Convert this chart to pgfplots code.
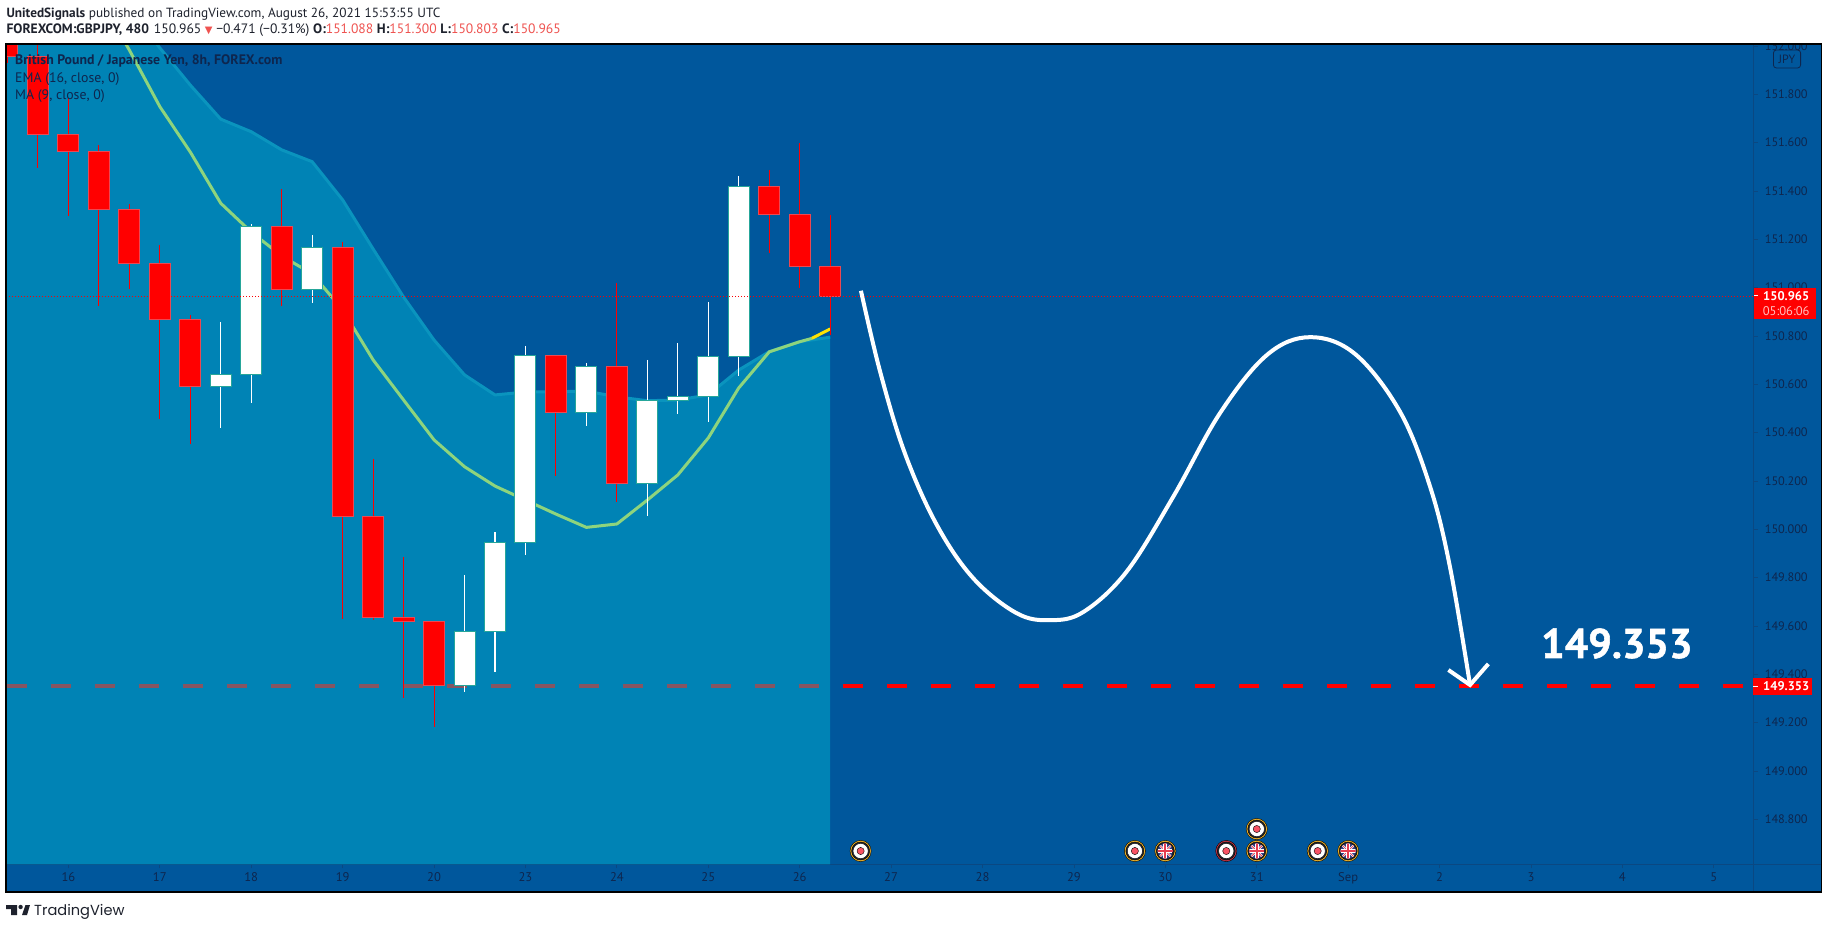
\documentclass[border=0pt]{standalone}
\usepackage{fontspec}
\usepackage{pgfplots}
\pgfplotsset{compat=1.18}
\setmainfont{PT Sans}
\newfontfamily\symf{DejaVu Sans}
\newfontfamily\logof{Poppins}
\newfontfamily\annotf[FakeBold=1.3]{PT Sans Bold}
\definecolor{bgblue}{RGB}{0,87,156}
\definecolor{areac}{RGB}{0,181,210}
\definecolor{emac}{RGB}{10,148,190}
\definecolor{mac}{RGB}{142,212,125}
\definecolor{txtdark}{RGB}{14,38,78}
\definecolor{axisdark}{RGB}{10,72,130}
\definecolor{redb}{RGB}{236,72,82}
\definecolor{tealb}{RGB}{38,166,154}
\definecolor{salmon}{RGB}{239,83,80}
\definecolor{ink}{RGB}{30,34,45}
\definecolor{gold}{RGB}{240,178,40}
\definecolor{pinkdot}{RGB}{247,82,100}
\definecolor{ukblue}{RGB}{50,60,130}
\definecolor{ukred}{RGB}{230,60,80}
\pgfdeclareplotmark{ukflag}{%
  \begin{pgfscope}%
  \pgfpathcircle{\pgfpointorigin}{7.6pt}\pgfusepathqclip
  \pgfsetfillcolor{ukblue}\pgfpathrectangle{\pgfpoint{-8pt}{-8pt}}{\pgfpoint{16pt}{16pt}}\pgfusepathqfill
  \pgfsetstrokecolor{white}\pgfsetlinewidth{2.2pt}%
  \pgfpathmoveto{\pgfpoint{-8pt}{-8pt}}\pgfpathlineto{\pgfpoint{8pt}{8pt}}%
  \pgfpathmoveto{\pgfpoint{-8pt}{8pt}}\pgfpathlineto{\pgfpoint{8pt}{-8pt}}\pgfusepathqstroke
  \pgfsetstrokecolor{ukred}\pgfsetlinewidth{0.8pt}%
  \pgfpathmoveto{\pgfpoint{-8pt}{-8pt}}\pgfpathlineto{\pgfpoint{8pt}{8pt}}%
  \pgfpathmoveto{\pgfpoint{-8pt}{8pt}}\pgfpathlineto{\pgfpoint{8pt}{-8pt}}\pgfusepathqstroke
  \pgfsetstrokecolor{white}\pgfsetlinewidth{4pt}%
  \pgfpathmoveto{\pgfpoint{-8pt}{0pt}}\pgfpathlineto{\pgfpoint{8pt}{0pt}}%
  \pgfpathmoveto{\pgfpoint{0pt}{-8pt}}\pgfpathlineto{\pgfpoint{0pt}{8pt}}\pgfusepathqstroke
  \pgfsetstrokecolor{ukred}\pgfsetlinewidth{2pt}%
  \pgfpathmoveto{\pgfpoint{-8pt}{0pt}}\pgfpathlineto{\pgfpoint{8pt}{0pt}}%
  \pgfpathmoveto{\pgfpoint{0pt}{-8pt}}\pgfpathlineto{\pgfpoint{0pt}{8pt}}\pgfusepathqstroke
  \end{pgfscope}%
}
% candle: index, open, high, low, close
\newcommand{\candle}[7]{%
  \pgfmathsetmacro\xl{#1-0.345}\pgfmathsetmacro\xr{#1+0.345}%
  \addplot[#6,line width=1.1pt,forget plot] coordinates {(#1,#3)(#1,#4)};
  \addplot[fill=#6,draw=#7,line width=1pt,forget plot] coordinates {(\xl,#2)(\xr,#2)(\xr,#5)(\xl,#5)} --cycle;
}
\newcommand{\dn}[5]{\candle{#1}{#2}{#3}{#4}{#5}{red}{redb}}
\newcommand{\up}[5]{\candle{#1}{#2}{#3}{#4}{#5}{white}{tealb}}
\newcommand{\fs}[1]{\fontsize{#1}{#1}\selectfont}
\begin{document}
\begin{tikzpicture}
\path[use as bounding box,fill=white] (0pt,0pt) rectangle (1828pt,929pt);
\fill[bgblue] (6pt,37pt) rectangle (1821.6pt,885pt);
\begin{axis}[
  at={(6pt,64.7pt)},anchor=south west,
  scale only axis,width=1747.6pt,height=820.3pt,
  xmin=-2.048,xmax=55.306,ymin=148.614,ymax=152.008,
  clip mode=individual,
  axis x line*=bottom,axis y line*=right,
  axis line style={draw=axisdark,line width=0.8pt,-},
  tick style={draw=axisdark,line width=0.8pt},
  tick align=outside,major tick length=4pt,
  xtick={0,3,6,9,12,15,18,21,24,27,30,33,36,39,42,45,48,51,54},
  xticklabels={16,17,18,19,20,23,24,25,26,27,28,29,30,31,Sep,2,3,4,5},
  ytick={148.8,149,149.2,149.4,149.6,149.8,150,150.2,150.4,150.6,150.8,151,151.2,151.4,151.6,151.8,152},
  yticklabel style={/pgf/number format/.cd,fixed,fixed zerofill,precision=3,1000 sep={},assume math mode=true,/tikz/.cd,inner sep=0pt,xshift=7pt,font=\fs{12.3},text=txtdark},
  xticklabel style={inner sep=0pt,yshift=-4.5pt,font=\fs{12.6},text=txtdark},
]
% target level, seen through the shaded area
\addplot[red,line width=3.9pt,dash pattern=on 20pt off 24pt,forget plot] coordinates {(-2.015,149.353)(54.96,149.353)};
% shaded area under the EMA
\addplot[fill=areac,fill opacity=0.47,draw=none,forget plot] coordinates {
(-2.048,148.614)(-2.048,152.749)(-1,152.604)(0,152.455)(1,152.302)(2,152.149)(3,151.992)(4,151.838)(5,151.697)(6,151.645)(7,151.570)(8,151.521)(9,151.363)(10,151.160)(11,150.961)(12,150.783)(13,150.639)(14,150.556)(15,150.568)(16,150.569)(17,150.572)(18,150.548)(19,150.532)(20,150.535)(21,150.556)(22,150.659)(23,150.735)(24,150.776)(25,150.795)(25,148.614)} --cycle;
\addplot[emac,line width=3pt,forget plot] coordinates {
(-2,152.749)(-1,152.604)(0,152.455)(1,152.302)(2,152.149)(3,151.992)(4,151.838)(5,151.697)(6,151.645)(7,151.570)(8,151.521)(9,151.363)(10,151.160)(11,150.961)(12,150.783)(13,150.639)(14,150.556)(15,150.568)(16,150.569)(17,150.572)(18,150.548)(19,150.532)(20,150.535)(21,150.556)(22,150.659)(23,150.735)(24,150.776)(25,150.795)};
\addplot[mac,line width=3pt,forget plot] coordinates {
(1,152.199)(2,151.983)(3,151.749)(4,151.561)(5,151.349)(6,151.230)(7,151.131)(8,151.057)(9,150.908)(10,150.701)(11,150.535)(12,150.370)(13,150.259)(14,150.179)(15,150.121)(16,150.063)(17,150.008)(18,150.022)(19,150.121)(20,150.225)(21,150.378)(22,150.585)(23,150.734)(24,150.776)(24.4,150.79)};
\addplot[yellow!85!orange,line width=3pt,forget plot] coordinates {(24.4,150.79)(25,150.829)};
% candles
\dn{-2}{152.2}{152.3}{151.930}{151.958}
\dn{-1}{151.958}{152.05}{151.494}{151.635}
\dn{0}{151.635}{151.783}{151.298}{151.564}
\dn{1}{151.564}{151.589}{150.925}{151.324}
\dn{2}{151.324}{151.346}{150.993}{151.101}
\dn{3}{151.101}{151.175}{150.455}{150.869}
\dn{4}{150.869}{150.887}{150.354}{150.592}
\up{5}{150.592}{150.858}{150.420}{150.640}
\up{6}{150.641}{151.263}{150.524}{151.254}
\dn{7}{151.254}{151.408}{150.925}{150.993}
\up{8}{150.993}{151.218}{150.938}{151.167}
\dn{9}{151.167}{151.189}{149.629}{150.052}
\dn{10}{150.052}{150.291}{149.625}{149.636}
\dn{11}{149.636}{149.885}{149.303}{149.618}
\dn{12}{149.618}{149.618}{149.182}{149.353}
\up{13}{149.353}{149.811}{149.328}{149.578}
\up{14}{149.578}{149.988}{149.411}{149.946}
\up{15}{149.946}{150.759}{149.894}{150.720}
\dn{16}{150.720}{150.720}{150.222}{150.484}
\up{17}{150.484}{150.688}{150.429}{150.674}
\dn{18}{150.674}{151.018}{150.114}{150.190}
\up{19}{150.190}{150.701}{150.055}{150.532}
\up{20}{150.532}{150.771}{150.477}{150.549}
\up{21}{150.549}{150.941}{150.444}{150.714}
\up{22}{150.714}{151.462}{150.634}{151.419}
\dn{23}{151.419}{151.487}{151.142}{151.303}
\dn{24}{151.303}{151.597}{151.000}{151.088}
\dn{25}{151.088}{151.300}{150.803}{150.965}
% current price
\addplot[red,line width=1pt,dash pattern=on 1pt off 2pt,forget plot] coordinates {(-2.048,150.965)(55.306,150.965)};
% projected path
\addplot[white,line width=4pt,smooth,tension=0.6,forget plot] coordinates {
(26.01,150.987)(26.64,150.652)(27.45,150.315)(28.50,150.018)(29.70,149.797)(31.12,149.653)(32.22,149.624)(33.31,149.658)(34.73,149.825)(36.26,150.135)(37.79,150.480)(39.33,150.721)(40.75,150.795)(42.23,150.725)(43.70,150.487)(44.69,150.176)(45.34,149.845)(46.00,149.356)};
\addplot[white,line width=4pt,forget plot] coordinates {(45.29,149.418)(46.00,149.356)(46.60,149.443)};
% calendar events
\addplot[only marks,mark=*,mark size=10.6pt,mark options={draw=none,fill=gold},forget plot] coordinates {(26,148.669)(35,148.669)(36,148.669)(39,148.669)(39,148.760)(41,148.669)(42,148.669)};
\addplot[only marks,mark=*,mark size=10.6pt,mark options={draw=none,fill=ukred!85!black},forget plot] coordinates {(38,148.669)};
\addplot[only marks,mark=*,mark size=9pt,mark options={draw=none,fill=ink},forget plot] coordinates {(26,148.669)(35,148.669)(36,148.669)(38,148.669)(39,148.669)(39,148.760)(41,148.669)(42,148.669)};
\addplot[only marks,mark=*,mark size=7.6pt,mark options={draw=none,fill=white},forget plot] coordinates {(26,148.669)(35,148.669)(38,148.669)(39,148.760)(41,148.669)};
\addplot[only marks,mark=*,mark size=3.6pt,mark options={draw=none,fill=pinkdot},forget plot] coordinates {(26,148.669)(35,148.669)(38,148.669)(39,148.760)(41,148.669)};
\addplot[only marks,mark=ukflag,forget plot] coordinates {(36,148.669)(39,148.669)(42,148.669)};
\end{axis}
\begin{scope}[x=1pt,y=1pt]
% cover what rises above the frame
\fill[white] (1700,885) rectangle (1828,929);
\draw[axisdark,line width=0.8pt] (1753.6,64.7)--(1753.6,37) (1753.6,64.7)--(1821.6,64.7);
\draw[black,line width=1.6pt] (6,37) rectangle (1821.6,885);
% price labels
\fill[red] (1753.6,610) rectangle (1816,641.3);
\fill[white] (1753.6,632.5) rectangle (1758,633.5);
\node[anchor=base west,inner sep=0,text=white,font=\fs{12.6}\bfseries] at (1763,628.6) {150.965};
\node[anchor=base west,inner sep=0,text=white!75!red,font=\fs{12.6}] at (1762.6,613.8) {05:06:06};
\fill[red] (1753.3,234) rectangle (1811.7,251);
\fill[white] (1753.3,242.2) rectangle (1758,243.2);
\node[anchor=base west,inner sep=0,text=white,font=\fs{12.6}\bfseries] at (1763,238) {149.353};
\draw[txtdark,line width=0.8pt,rounded corners=3pt] (1773.4,861) rectangle (1800.6,879);
\node[inner sep=0,text=txtdark,font=\fs{12}] at (1787,870) {JPY};
% annotation
\node[anchor=base west,inner sep=0,text=white,font=\annotf\fs{41.5}] at (1541,271) {149.353};
% legend
\node[anchor=base west,inner sep=0,text=txtdark,font=\fs{13.8}\bfseries] at (15,864) {British Pound / Japanese Yen, 8h, FOREX.com};
\node[anchor=base west,inner sep=0,text=txtdark,font=\fs{13.8}] at (15,846.3) {EMA (16, close, 0)};
\node[anchor=base west,inner sep=0,text=txtdark,font=\fs{13.8}] at (15,829.7) {MA (9, close, 0)};
% header
\node[anchor=base west,inner sep=0,text=ink,font=\fs{13.3}] at (6.3,911.5) {\textbf{UnitedSignals} published on TradingView.com, August 26, 2021 15:53:55 UTC};
\node[anchor=base west,inner sep=0,text=ink,font=\fs{13.6}] at (6.3,895) {\textbf{FOREXCOM:GBPJPY, 480}\hspace{5pt}150.965 {\color{salmon}\symf\fontsize{10}{10}\selectfont ▼} −0.471 (−0.31\%) \textbf{O:}{\color{salmon}151.088} \textbf{H:}{\color{salmon}151.300} \textbf{L:}{\color{salmon}150.803} \textbf{C:}{\color{salmon}150.965}};
% logo
\fill[ink] (6,24)--(17,24)--(17,14)--(11,14)--(11,20)--(6,20)--cycle;
\fill[ink] (20.6,22) circle (2.2);
\fill[ink] (25.5,24)--(30,24)--(27,14)--(22,14)--cycle;
\node[anchor=base west,inner sep=0,text=ink,font=\logof\fs{14.6}] at (34,13.5) {TradingView};
\end{scope}
\end{tikzpicture}
\end{document}
